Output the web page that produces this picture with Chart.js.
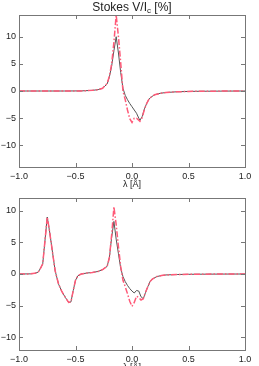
<!DOCTYPE html>
<html>
<head>
<meta charset="utf-8">
<script src="https://cdn.jsdelivr.net/npm/chart.js@4.4.1/dist/chart.umd.min.js"></script>
<style>
  html, body { margin: 0; padding: 0; background: #fff; overflow: hidden; }
  body { width: 259px; height: 366px; position: relative; }
  .panel { position: absolute; left: 0; width: 259px; height: 200px; }
  #panelTop { top: 0; }
  #panelBottom { top: 183px; }
</style>
</head>
<body>
<div class="panel" id="panelTop"><canvas id="chartTop" width="259" height="200"></canvas></div>
<div class="panel" id="panelBottom"><canvas id="chartBottom" width="259" height="200"></canvas></div>
<script>
// top panel: wavelength (A) and Stokes V/Ic (%)
const lambdaTop = [-1.0, -0.8, -0.6, -0.45, -0.35, -0.3, -0.26, -0.22, -0.2, -0.18, -0.16, -0.14, -0.12, -0.1,
  -0.08, -0.06, -0.04, -0.02, 0.0, 0.02, 0.04, 0.06, 0.07, 0.09, 0.11, 0.13, 0.15, 0.17, 0.2, 0.25, 0.3,
  0.4, 0.5, 0.6, 0.8, 1.0];
const observedTop = [0, 0, 0, 0.02, 0.12, 0.25, 0.5, 1.3, 2.6, 4.6, 7.4, 10.0, 7.0, 3.4,
  0.5, -0.8, -1.6, -2.3, -2.9, -3.5, -4.1, -5.0, -5.4, -4.7, -3.3, -2.3, -1.5, -1.1, -0.7, -0.42, -0.28,
  -0.14, -0.08, -0.05, -0.02, 0];
const synthTop = [0, 0, 0, 0.02, 0.12, 0.25, 0.5, 1.4, 2.7, 5.0, 9.0, 14.0, 10.0, 5.2,
  0.0, -1.6, -3.5, -5.1, -5.8, -5.0, -5.0, -5.4, -5.6, -4.9, -3.4, -2.3, -1.5, -1.1, -0.7, -0.42, -0.28,
  -0.14, -0.08, -0.05, -0.02, 0];

// bottom panel
const lambdaBottom = [-1.0, -0.9, -0.86, -0.83, -0.81, -0.79, -0.75, -0.73, -0.7, -0.68, -0.65, -0.62, -0.59,
  -0.56, -0.54, -0.52, -0.5, -0.48, -0.45, -0.4, -0.35, -0.3, -0.26, -0.22, -0.2, -0.18, -0.16, -0.14, -0.12,
  -0.1, -0.08, -0.06, -0.04, -0.02, 0.0, 0.02, 0.04, 0.06, 0.08, 0.1, 0.12, 0.14, 0.16, 0.18, 0.22, 0.26,
  0.3, 0.4, 0.5, 0.6, 0.8, 1.0];
const observedBottom = [0, 0.02, 0.1, 0.3, 0.9, 1.6, 9.0, 6.8, 3.0, 0.5, -1.6, -2.8, -3.7,
  -4.5, -4.4, -2.6, -1.0, -0.3, 0.0, 0.15, 0.25, 0.4, 0.7, 1.2, 2.6, 5.8, 8.3, 5.5, 3.2,
  0.9, -0.4, -1.2, -1.8, -2.3, -2.7, -3.0, -2.6, -2.7, -3.6, -3.9, -2.9, -2.0, -1.2, -0.8, -0.4, -0.25,
  -0.15, -0.08, -0.05, -0.03, -0.01, 0];
const synthBottom = [0, 0.02, 0.1, 0.3, 0.9, 1.6, 9.0, 6.8, 3.0, 0.5, -1.6, -2.8, -3.7,
  -4.5, -4.4, -2.6, -1.0, -0.3, 0.0, 0.15, 0.25, 0.4, 0.7, 1.2, 2.6, 6.2, 10.6, 7.8, 4.3,
  1.2, -1.0, -2.0, -3.1, -4.3, -5.1, -4.5, -3.5, -3.7, -4.1, -3.9, -2.9, -2.0, -1.2, -0.8, -0.4, -0.25,
  -0.15, -0.08, -0.05, -0.03, -0.01, 0];

// axes
const xTicks = [-1.0, -0.5, 0.0, 0.5, 1.0];
const yTicks = [-10, -5, 0, 5, 10];
const yLimitTop = 14;
const yLimitBottom = 12;
const titleMain = 'Stokes V/I';
const titleSub = 'c';
const titleTail = ' [%]';
const xTitle = 'λ [Å]';

const FONT = '"Liberation Sans", Arial, sans-serif';
const frameColor = '#777';
const textColor = '#222';

const minus = s => String(s).replace('-', '\u2212');

// frame box and inner tick marks on all four sides
const framePlugin = {
  id: 'frame',
  afterDraw(chart) {
    const {ctx, chartArea: a, scales: {x, y}} = chart;
    ctx.save();
    ctx.strokeStyle = frameColor;
    ctx.lineWidth = 1;
    ctx.strokeRect(a.left + 0.5, a.top + 0.5, a.right - a.left, a.bottom - a.top);
    ctx.beginPath();
    xTicks.forEach(v => {
      const px = Math.round(x.getPixelForValue(v)) + 0.5;
      ctx.moveTo(px, a.bottom); ctx.lineTo(px, a.bottom - 4);
      ctx.moveTo(px, a.top); ctx.lineTo(px, a.top + 4);
    });
    yTicks.forEach(v => {
      const py = Math.round(y.getPixelForValue(v)) + 0.5;
      ctx.moveTo(a.left, py); ctx.lineTo(a.left + 4, py);
      ctx.moveTo(a.right, py); ctx.lineTo(a.right - 4, py);
    });
    ctx.stroke();
    ctx.restore();
  }
};

// title with subscript c
const titlePlugin = {
  id: 'subTitle',
  afterDraw(chart) {
    const {ctx, chartArea: a} = chart;
    ctx.save();
    ctx.fillStyle = textColor;
    ctx.textBaseline = 'middle';
    ctx.textAlign = 'left';
    const big = '12px ' + FONT, small = '8px ' + FONT;
    ctx.font = big;
    const w1 = ctx.measureText(titleMain).width;
    const w3 = ctx.measureText(titleTail).width;
    ctx.font = small;
    const w2 = ctx.measureText(titleSub).width;
    let px = (a.left + a.right) / 2 - (w1 + w2 + w3) / 2;
    const py = 7.5;
    ctx.font = big;
    ctx.fillText(titleMain, px, py);
    px += w1;
    ctx.font = small;
    ctx.fillText(titleSub, px, py + 3);
    px += w2;
    ctx.font = big;
    ctx.fillText(titleTail, px, py);
    ctx.restore();
  }
};

function makeChart(id, lambda, observed, synth, yLimit, withTitle) {
  const toPts = vals => lambda.map((l, i) => ({x: l, y: vals[i]}));
  return new Chart(document.getElementById(id), {
    type: 'line',
    data: {
      datasets: [
        {
          label: 'synthetic',
          data: toPts(synth),
          borderColor: '#ff5a78',
          borderWidth: 1.5,
          borderDash: [6, 2, 1.5, 2],
          pointRadius: 0,
          tension: 0
        },
        {
          label: 'observed',
          data: toPts(observed),
          borderColor: '#555',
          borderWidth: 1,
          pointRadius: 0,
          tension: 0
        }
      ]
    },
    options: {
      responsive: false,
      animation: false,
      events: [],
      layout: { padding: { left: 0, right: 14, top: 15, bottom: 9 } },
      plugins: { legend: { display: false }, tooltip: { enabled: false }, title: { display: false } },
      scales: {
        x: {
          type: 'linear',
          min: -1, max: 1,
          grid: { display: false, drawTicks: false },
          border: { display: false },
          afterBuildTicks: s => { s.ticks = xTicks.map(v => ({value: v})); },
          afterFit: s => { s.height = 24; s.paddingLeft = 0; s.paddingRight = 0; },
          ticks: {
            autoSkip: false, maxRotation: 0, padding: 4,
            color: textColor, font: { family: FONT, size: 9 },
            callback: v => minus(v.toFixed(1))
          },
          title: {
            display: true, text: xTitle, color: textColor,
            font: { family: FONT, size: 9 }, padding: { top: 0, bottom: 1 }
          }
        },
        y: {
          min: -yLimit, max: yLimit,
          grid: { display: false, drawTicks: false },
          border: { display: false },
          afterBuildTicks: s => { s.ticks = yTicks.map(v => ({value: v})); },
          afterFit: s => { s.width = 19; s.paddingTop = 0; s.paddingBottom = 0; },
          ticks: {
            padding: 3, color: textColor, font: { family: FONT, size: 9 },
            callback: v => minus(v)
          }
        }
      }
    },
    plugins: withTitle ? [framePlugin, titlePlugin] : [framePlugin]
  });
}

makeChart('chartTop', lambdaTop, observedTop, synthTop, yLimitTop, true);
makeChart('chartBottom', lambdaBottom, observedBottom, synthBottom, yLimitBottom, false);
</script>
</body>
</html>
